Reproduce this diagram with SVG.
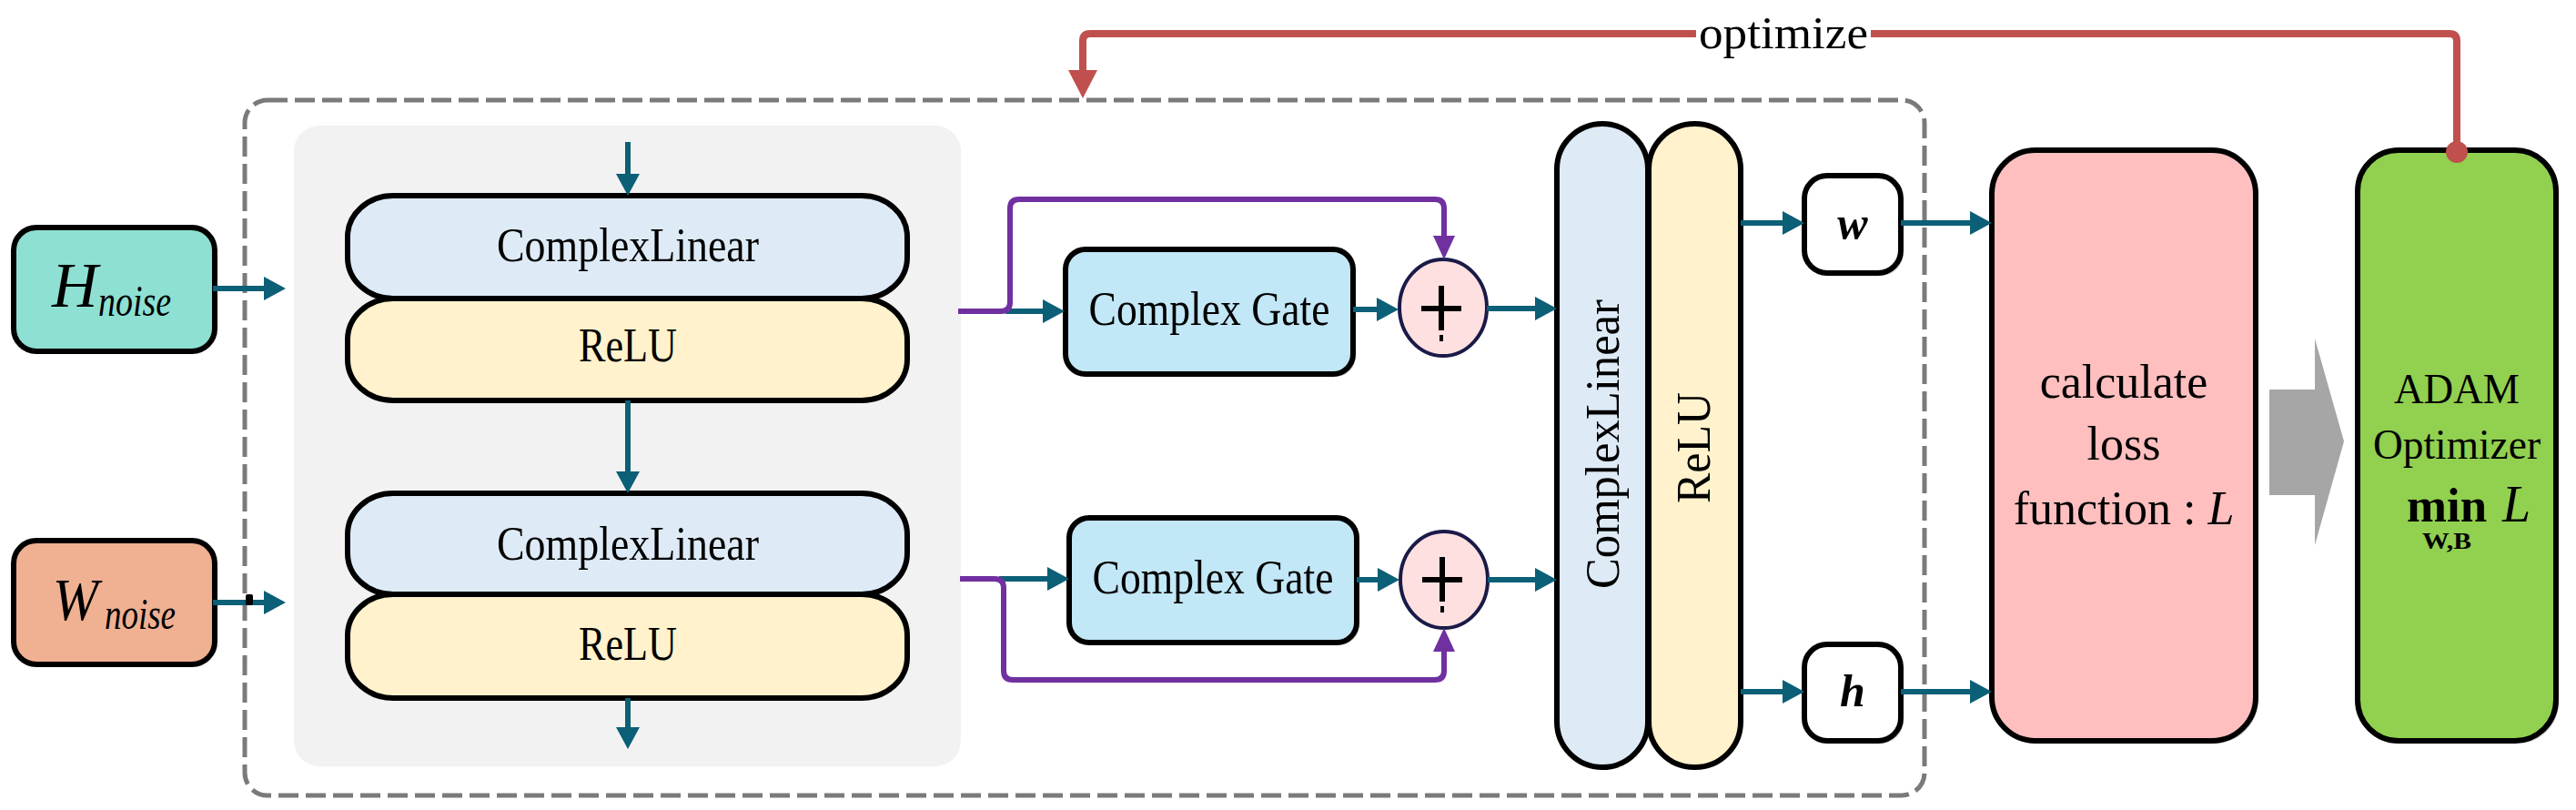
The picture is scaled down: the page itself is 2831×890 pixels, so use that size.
<svg xmlns="http://www.w3.org/2000/svg" width="2831" height="890" viewBox="0 0 2831 890">
<defs>
<marker id="tealHead" markerUnits="userSpaceOnUse" markerWidth="26" markerHeight="28" refX="2" refY="13" orient="auto"><path d="M0,0 L24,13 L0,26 Z" fill="#0b5f76"/></marker>
<marker id="purpleHead" markerUnits="userSpaceOnUse" markerWidth="28" markerHeight="26" refX="2" refY="12" orient="auto"><path d="M0,0 L26,12 L0,24 Z" fill="#7030a0"/></marker>
</defs>
<style>
.t{font-family:"Liberation Serif","Times New Roman",serif;fill:#000}
.box{stroke:#000;stroke-width:6}
.teal{fill:none;stroke:#0b5f76;stroke-width:6;marker-end:url(#tealHead)}
.purple{fill:none;stroke:#7030a0;stroke-width:6;stroke-linejoin:round;marker-end:url(#purpleHead)}
.red{fill:none;stroke:#c0504d;stroke-width:8;stroke-linejoin:round}
.shadow{fill:#d4d4d4}
.cl{fill:#deebf7}
.relu{fill:#fff2cc}
.gate{fill:#c2e7f6}
.add{fill:#fde0df;stroke:#1a1a48;stroke-width:4}
.plus{stroke:#000;stroke-width:6;fill:none}
</style>
<rect width="2831" height="890" fill="#fff"/>

<g id="frame">
<rect x="269" y="110" width="1846" height="764" rx="25" fill="none" stroke="#7a7a7a" stroke-width="5" stroke-dasharray="22 8"/>
<rect x="323" y="138" width="733" height="704" rx="28" fill="#f2f2f2"/>
</g>

<g id="H_noise">
<rect x="15" y="250" width="221" height="136" rx="25" fill="#8ee0d2" class="box"/>
<text class="t" x="57" y="337" font-size="70" font-style="italic">H</text>
<text class="t" x="108" y="347" font-size="48" font-style="italic" textLength="80" lengthAdjust="spacingAndGlyphs">noise</text>
</g>
<g id="W_noise">
<rect x="15" y="594" width="221" height="136" rx="25" fill="#f0b092" class="box"/>
<text class="t" x="58" y="681" font-size="66" font-style="italic" textLength="50" lengthAdjust="spacingAndGlyphs">W</text>
<text class="t" x="115" y="691" font-size="48" font-style="italic" textLength="78" lengthAdjust="spacingAndGlyphs">noise</text>
</g>

<g id="block1">
<rect x="382" y="215" width="615" height="113" rx="50" ry="45" class="box cl"/>
<rect x="382" y="328" width="615" height="112" rx="50" ry="45" class="box relu"/>
<text class="t" x="690" y="287" font-size="52" text-anchor="middle" textLength="288" lengthAdjust="spacingAndGlyphs">ComplexLinear</text>
<text class="t" x="690" y="397" font-size="52" text-anchor="middle" textLength="108" lengthAdjust="spacingAndGlyphs">ReLU</text>
</g>
<g id="block2">
<rect x="382" y="542" width="615" height="111" rx="50" ry="45" class="box cl"/>
<rect x="382" y="653" width="615" height="114" rx="50" ry="45" class="box relu"/>
<text class="t" x="690" y="615" font-size="52" text-anchor="middle" textLength="288" lengthAdjust="spacingAndGlyphs">ComplexLinear</text>
<text class="t" x="690" y="725" font-size="52" text-anchor="middle" textLength="108" lengthAdjust="spacingAndGlyphs">ReLU</text>
</g>

<g id="gate1">
<rect x="1174" y="277" width="316" height="137" rx="22" class="shadow"/>
<rect x="1171" y="274" width="316" height="137" rx="22" class="box gate"/>
<text class="t" x="1329" y="357" font-size="52" text-anchor="middle" textLength="265" lengthAdjust="spacingAndGlyphs">Complex Gate</text>
</g>
<g id="gate2">
<rect x="1178" y="572" width="316" height="137" rx="22" class="shadow"/>
<rect x="1175" y="569" width="316" height="137" rx="22" class="box gate"/>
<text class="t" x="1333" y="652" font-size="52" text-anchor="middle" textLength="265" lengthAdjust="spacingAndGlyphs">Complex Gate</text>
</g>

<g id="add1">
<ellipse cx="1586" cy="338" rx="48" ry="53" class="add"/>
<path d="M1562,339 H1606 M1584,314 V363" class="plus"/>
<rect x="1582" y="368" width="4" height="7" fill="#000"/>
</g>
<g id="add2">
<ellipse cx="1587" cy="637" rx="48" ry="53" class="add"/>
<path d="M1563,637 H1607 M1585,612 V661" class="plus"/>
<rect x="1583" y="666" width="4" height="7" fill="#000"/>
</g>

<g id="big_linear">
<rect x="1711" y="136" width="100" height="707" rx="50" class="box cl"/>
<text class="t" transform="translate(1779,488) rotate(-90)" font-size="52" text-anchor="middle" textLength="318" lengthAdjust="spacingAndGlyphs">ComplexLinear</text>
</g>
<g id="big_relu">
<rect x="1812" y="136" width="101" height="707" rx="50" class="box relu"/>
<text class="t" transform="translate(1879,492) rotate(-90)" font-size="52" text-anchor="middle" textLength="122" lengthAdjust="spacingAndGlyphs">ReLU</text>
</g>

<g id="w_out">
<rect x="1986" y="196" width="106" height="107" rx="25" class="shadow"/>
<rect x="1983" y="193" width="106" height="107" rx="25" fill="#fff" class="box"/>
<text class="t" x="2036" y="262" font-size="50" font-weight="bold" font-style="italic" text-anchor="middle">w</text>
</g>
<g id="h_out">
<rect x="1986" y="711" width="106" height="106" rx="25" class="shadow"/>
<rect x="1983" y="708" width="106" height="106" rx="25" fill="#fff" class="box"/>
<text class="t" x="2036" y="776" font-size="50" font-weight="bold" font-style="italic" text-anchor="middle">h</text>
</g>

<g id="loss">
<rect x="2192" y="168" width="290" height="649" rx="48" class="shadow"/>
<rect x="2189" y="165" width="290" height="649" rx="48" fill="#ffbfbf" class="box"/>
<text class="t" x="2334" y="437" font-size="52" text-anchor="middle">calculate</text>
<text class="t" x="2334" y="505" font-size="52" text-anchor="middle">loss</text>
<text class="t" x="2334" y="576" font-size="52" text-anchor="middle">function : <tspan font-style="italic">L</tspan></text>
</g>

<g id="adam">
<rect x="2594" y="168" width="218" height="649" rx="45" class="shadow"/>
<rect x="2591" y="165" width="218" height="649" rx="45" fill="#92d050" class="box"/>
<text class="t" x="2700" y="443" font-size="46" text-anchor="middle" textLength="138" lengthAdjust="spacingAndGlyphs">ADAM</text>
<text class="t" x="2700" y="504" font-size="46" text-anchor="middle" textLength="184" lengthAdjust="spacingAndGlyphs">Optimizer</text>
<text class="t" x="2645" y="573" font-size="52" font-weight="bold" textLength="88" lengthAdjust="spacingAndGlyphs">min</text>
<text class="t" x="2750" y="573" font-size="56" font-style="italic">L</text>
<text class="t" x="2662" y="603" font-size="26" font-weight="bold" textLength="54" lengthAdjust="spacingAndGlyphs">W,B</text>
</g>

<g id="connectors">
<path class="teal" d="M234,317 H292"/>
<path class="teal" d="M234,662 H292"/>
<rect x="270" y="653" width="8" height="12" rx="2" fill="#000"/>
<path class="teal" d="M690,156 V193"/>
<path class="teal" d="M690,440 V520"/>
<path class="teal" d="M690,767 V801"/>
<path class="teal" d="M1105,342 H1148"/>
<path class="purple" d="M1053,342 H1100 Q1110,342 1110,332 V229 Q1110,219 1120,219 H1577 Q1587,219 1587,229 V261"/>
<path class="teal" d="M1487,340 H1515"/>
<path class="teal" d="M1634,339 H1689"/>
<path class="teal" d="M1098,636 H1153"/>
<path class="purple" d="M1055,636 H1093 Q1103,636 1103,646 V737 Q1103,747 1113,747 H1577 Q1587,747 1587,737 V714"/>
<path class="teal" d="M1491,637 H1516"/>
<path class="teal" d="M1635,637 H1689"/>
<path class="teal" d="M1913,245 H1961"/>
<path class="teal" d="M1913,760 H1961"/>
<path class="teal" d="M2089,245 H2167"/>
<path class="teal" d="M2089,760 H2167"/>
<path class="red" d="M2700,167 V45 Q2700,37 2692,37 H2056"/>
<path class="red" d="M1864,37 H1198 Q1190,37 1190,45 V80"/>
<polygon points="1174,77 1206,77 1190,108" fill="#c0504d"/>
<circle cx="2700" cy="167" r="12" fill="#c0504d"/>
<text class="t" x="1867" y="53" font-size="50" textLength="186" lengthAdjust="spacingAndGlyphs">optimize</text>
<polygon points="2494,428 2544,428 2544,372 2576,485 2544,599 2544,544 2494,544" fill="#a6a6a6"/>
</g>
</svg>
